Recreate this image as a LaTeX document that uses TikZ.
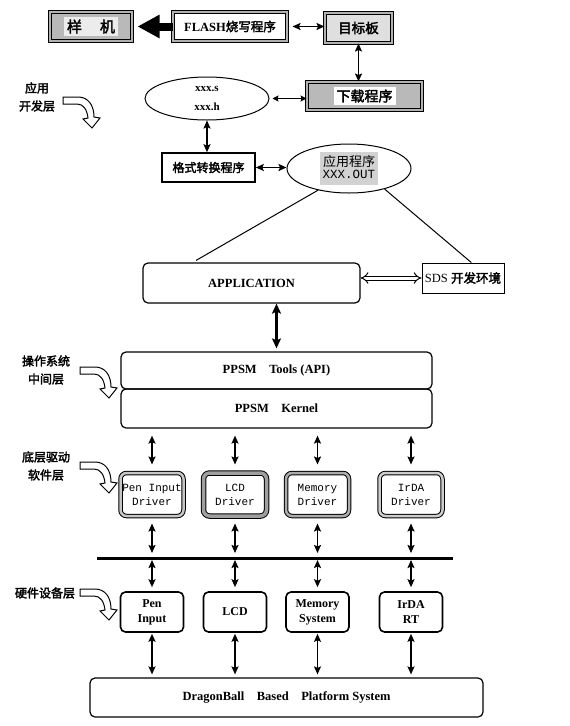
\documentclass[tikz,border=0pt]{standalone}
\usepackage{fontspec}
\setmainfont{Liberation Serif}
\newfontfamily\cjk[AutoFakeBold=2.5]{Noto Sans CJK SC}
\newfontfamily\mono{Liberation Mono}
\usetikzlibrary{arrows.meta,shapes.geometric,calc}

\begin{document}
\begin{tikzpicture}[x=1pt, y=-1pt,
  grainy/.style={draw, line width=1pt, double=gray!60, double distance=2.5pt, inner sep=0},
  plain/.style={draw, line width=1.2pt, inner sep=0},
  layer/.style={draw, line width=1.2pt, rounded corners=5pt, inner sep=0, font=\bfseries\fontsize{12.5}{14}\selectfont},
  drvbox/.style={grainy, rounded corners=6pt, minimum width=63pt, minimum height=43pt, align=center, font=\mono\fontsize{11}{14}\selectfont},
  devbox/.style={draw, line width=1.6pt, rounded corners=5pt, minimum width=63pt, minimum height=40pt, inner sep=0, align=center, font=\bfseries\fontsize{12}{15}\selectfont},
  link/.style={{Stealth[length=8pt,width=7pt,inset=1.5pt]}-{Stealth[length=8pt,width=7pt,inset=1.5pt]}, line width=1.6pt},
  tlink/.style={{Stealth[length=6pt,width=6pt,inset=1pt]}-{Stealth[length=6pt,width=6pt,inset=1pt]}, line width=0.8pt},
  blink/.style={{Stealth[length=10pt,width=9pt,inset=2pt]}-{Stealth[length=10pt,width=9pt,inset=2pt]}, line width=2.4pt},
  side/.style={align=center, font=\cjk\bfseries\fontsize{12}{18}\selectfont},
  turn/.pic={\draw [line width=1pt, fill=white] (0,0) -- (15,0) .. controls (25,0) and (31,8) .. (31,20) -- (37,21) -- (29,31) -- (20,22) -- (25,21) .. controls (24,12) and (20,7) .. (14,7) -- (0,7) -- cycle;}]
\def\drv{node [drvbox] }
\def\dev{node [devbox] }

\useasboundingbox (0,0) rectangle (570,726);

\node [grainy, fill=gray!55, minimum width=82pt, minimum height=29pt, font=\cjk\bfseries\fontsize{15}{15}\selectfont] (sample) at (91,26.5) {\colorbox{gray!15}{样\hspace{1.2em}机}};
\node [grainy, fill=white, minimum width=114pt, minimum height=29pt, font=\bfseries\fontsize{12.5}{12.5}\selectfont] (flash) at (230,26.5) {FLASH{\cjk 烧写程序}};
\node [grainy, fill=gray!25, minimum width=67pt, minimum height=30pt, font=\cjk\bfseries\fontsize{13.5}{13.5}\selectfont] (board) at (358.5,28) {目标板};
\node [grainy, fill=gray!55, minimum width=115pt, minimum height=28pt, font=\cjk\bfseries\fontsize{14}{14}\selectfont] (load) at (364.5,96) {\colorbox{white}{下载程序}};
\node [ellipse, draw, line width=1pt, minimum width=124pt, minimum height=43pt, inner sep=0, align=center, font=\bfseries\fontsize{11}{19}\selectfont] (src) at (207,98.5) {xxx.s\\xxx.h};
\node [plain, line width=1.6pt, minimum width=93pt, minimum height=29pt, font=\cjk\bfseries\fontsize{12}{12}\selectfont] (conv) at (208.5,167.5) {格式转换程序};
\node [ellipse, draw, line width=1pt, minimum width=124pt, minimum height=49pt, inner sep=0] (out) at (349,168.5) {\colorbox{gray!35}{\begin{tabular}{@{}c@{}}{\cjk\fontsize{13}{14}\selectfont 应用程序}\\{\mono\fontsize{12.5}{13}\selectfont XXX.OUT}\end{tabular}}};

\node [layer, minimum width=217pt, minimum height=40pt] (app) at (251.5,283) {APPLICATION};
\node [plain, line width=1pt, minimum width=82pt, minimum height=30pt, font=\fontsize{12.5}{12.5}\selectfont] (sds) at (463,278) {SDS\ {\cjk\bfseries 开发环境}};
\node [layer, minimum width=311pt, minimum height=37pt] (tools) at (276.5,370.5) {PPSM\quad Tools (API)};
\node [layer, minimum width=311pt, minimum height=39pt] (kern) at (276.5,408.5) {PPSM\quad Kernel};

\draw (152,494.5) \drv [double=gray!45] (dpen) {Pen Input\\Driver};
\draw (235,494.5) \drv [double=gray!75, double distance=3.5pt] (dlcd) {LCD\\Driver};
\draw (317.5,494.5) \drv [double=gray!65] (dmem) {Memory\\Driver};
\draw (411,494.5) \drv [double=gray!40] (dirda) {IrDA\\Driver};

\coordinate (busl) at (97,558);
\coordinate (busr) at (453,558);

\draw (152,612) \dev (hpen) {Pen\\Input};
\draw (235,612) \dev (hlcd) {LCD};
\draw (317.5,612) \dev (hmem) {Memory\\System};
\draw (411,612) \dev (hirda) {IrDA\\RT};

\node [layer, minimum width=393pt, minimum height=39pt] (base) at (286.5,697.5) {DragonBall\quad Based\quad Platform System};

\node [side] (lapp) at (37,97) {应用\\开发层};
\node [side] (los) at (46,370) {操作系统\\中间层};
\node [side] (ldrv) at (46,466) {底层驱动\\软件层};
\node [side] (lhw) at (45,593) {硬件设备层};

\pic at (63,97) {turn};
\pic at (80,367) {turn};
\pic at (80,462) {turn};
\pic at (80,589) {turn};

\draw [line width=8pt, -{Triangle[length=22pt,width=22pt]}, shorten >=5pt] (flash.west) -- (sample.east);
\draw [link, shorten <=5pt] (flash.east) -- (flash.east -| board.west);
\draw [link] (board.south) -- (board.south |- load.north);
\draw [tlink, shorten <=3pt] (src.east) -- (src.east -| load.west);
\draw [link] (src.south) -- (src.south |- conv.north);
\draw [link] (conv.east) -- (conv.east -| out.west);
\draw [line width=1pt, shorten >=4pt] (out.215) -- ($(app.north west)!0.23!(app.north east)$);
\draw [line width=1pt] (out.330) -- ($(sds.north west)!0.6!(sds.north east)$);
\draw [double, double distance=3pt, line width=1pt, {Implies}-{Implies}] (sds.west -| app.east) -- (sds.west);
\draw [blink, shorten >=3pt] (app.south -| tools.north) -- (tools.north);

\foreach \d in {dpen,dlcd,dmem,dirda} {
  \draw [link, shorten <=7pt, shorten >=8pt] (\d.north |- kern.south) -- (\d.north);
  \draw [link, shorten <=7pt, shorten >=5pt] (\d.south) -- (\d.south |- busl);
}
\draw [line width=3pt] (busl) -- (busr);
\foreach \h in {hpen,hlcd,hmem,hirda} {
  \draw [link, shorten <=2pt, shorten >=4pt] (\h.north |- busl) -- (\h.north);
  \draw [link, shorten <=1pt, shorten >=3pt] (\h.south) -- (\h.south |- base.north);
}
\end{tikzpicture}
\end{document}
